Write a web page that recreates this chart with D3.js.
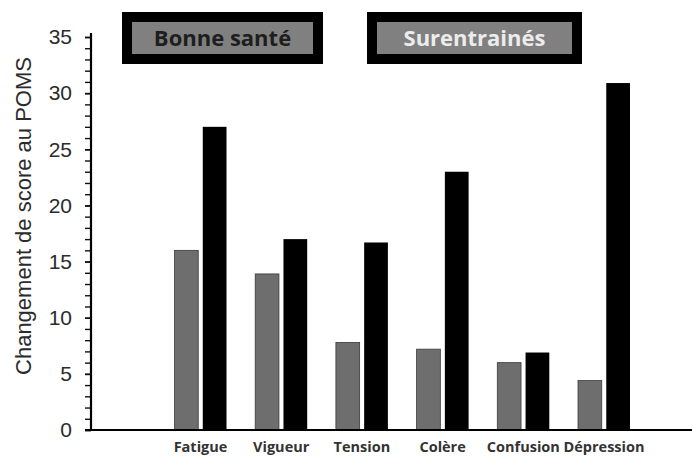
<!DOCTYPE html>
<html>
<head>
<meta charset="utf-8">
<script src="https://cdn.jsdelivr.net/npm/d3@7"></script>
<style>
  html, body { margin: 0; padding: 0; background: #fff; }
  svg { display: block; }
</style>
</head>
<body>
<svg id="chart" width="692" height="459"></svg>
<script>
// ---- data ----
const categories = ["Fatigue", "Vigueur", "Tension", "Colère", "Confusion", "Dépression"];
const seriesNames = ["Bonne santé", "Surentrainés"];
const bonneSante = [16, 13.9, 7.8, 7.2, 6.0, 4.4];
const surentraines = [27, 17.0, 16.7, 23.0, 6.9, 30.9];
const yMajorTicks = [0, 5, 10, 15, 20, 25, 30, 35];
const yMinorTicks = d3.range(0, 36, 1);
const yTitle = "Changement de score au POMS";

// ---- layout ----
const svg = d3.select("#chart");
const y = d3.scaleLinear().domain([0, 35]).range([430, 37]);
const x = d3.scaleBand().domain(categories).range([160.15, 644.35]).paddingInner(0).paddingOuter(0);
const xSub = d3.scaleBand().domain(seriesNames).range([-26, 26]).paddingInner(0.16);
const colors = { "Bonne santé": "#6e6e6e", "Surentrainés": "#000000" };

const rows = categories.map((c, i) => ({ cat: c, vals: [
  { s: seriesNames[0], v: bonneSante[i] },
  { s: seriesNames[1], v: surentraines[i] }
]}));

// bars
const groups = svg.append("g").selectAll("g").data(rows).join("g")
  .attr("transform", d => `translate(${x(d.cat) + x.bandwidth() / 2},0)`);
groups.selectAll("rect").data(d => d.vals).join("rect")
  .attr("x", d => xSub(d.s))
  .attr("width", xSub.bandwidth())
  .attr("y", d => y(d.v))
  .attr("height", d => y(0) - y(d.v))
  .attr("fill", d => colors[d.s])
  .attr("stroke", d => d.s === seriesNames[0] ? "#3a3a3a" : "none")
  .attr("stroke-width", 0.8);

// y axis minor ticks
const axisX = 91;
const yMinor = svg.append("g").attr("transform", `translate(${axisX},0)`)
  .call(d3.axisLeft(y).tickValues(yMinorTicks).tickSize(6).tickFormat(""));
yMinor.select(".domain").remove();
yMinor.selectAll("line").attr("stroke", "#111").attr("stroke-width", 1.4);

// y axis major
const yMajor = svg.append("g").attr("transform", `translate(${axisX},0)`)
  .call(d3.axisLeft(y).tickValues(yMajorTicks).tickSize(6).tickPadding(13).tickFormat(d3.format("d")));
yMajor.select(".domain").attr("d", `M0,${y(35) - 4}V${y(0)}`).attr("stroke", "#000").attr("stroke-width", 2.2);
yMajor.selectAll("line").attr("stroke", "#111").attr("stroke-width", 1.6);
yMajor.selectAll("text")
  .attr("font-family", "'Liberation Sans', Arial, sans-serif")
  .attr("font-size", 21)
  .attr("fill", "#2b2b2b");

// x axis
const xAxis = svg.append("g").attr("transform", `translate(0,${y(0)})`)
  .call(d3.axisBottom(x).tickSize(0).tickPadding(12));
xAxis.select(".domain").attr("d", `M85,0H692`).attr("stroke", "#000").attr("stroke-width", 2.2);
xAxis.selectAll("text")
  .attr("font-family", "'Open Sans', sans-serif")
  .attr("font-weight", 700)
  .attr("font-size", 14.5)
  .attr("fill", "#333");

// y title
svg.append("text")
  .attr("transform", `translate(31,${(45 + 387) / 2}) rotate(-90)`)
  .attr("text-anchor", "middle")
  .attr("font-family", "'Liberation Sans', Arial, sans-serif")
  .attr("font-size", 22)
  .attr("fill", "#2b2b2b")
  .text(yTitle);

// legend
const legendBoxes = [
  { name: seriesNames[0], x: 122, w: 201, text: "#1e1e1e" },
  { name: seriesNames[1], x: 367, w: 215, text: "#ececec" }
];
const lg = svg.append("g").selectAll("g").data(legendBoxes).join("g");
lg.append("rect")
  .attr("x", d => d.x).attr("y", 12).attr("width", d => d.w).attr("height", 52)
  .attr("fill", "#000");
lg.append("rect")
  .attr("x", d => d.x + 10).attr("y", 22).attr("width", d => d.w - 20).attr("height", 32)
  .attr("fill", "#808080");
lg.append("text")
  .attr("x", d => d.x + d.w / 2).attr("y", 46)
  .attr("text-anchor", "middle")
  .attr("font-family", "'Open Sans', sans-serif")
  .attr("font-weight", 700)
  .attr("font-size", 22)
  .attr("fill", d => d.text)
  .text(d => d.name);
</script>
</body>
</html>
